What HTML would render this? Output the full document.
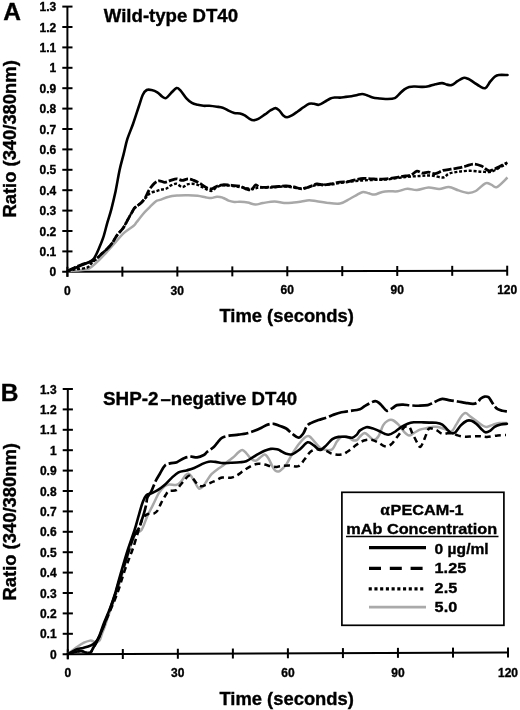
<!DOCTYPE html>
<html><head><meta charset="utf-8"><style>
html,body{margin:0;padding:0;background:#fff;}
svg{display:block;will-change:transform;}
text{font-family:"Liberation Sans",sans-serif;font-weight:bold;fill:#000;stroke:#000;stroke-width:0.35px;}
.yl{font-size:12px;text-anchor:end;}
.xl{font-size:12px;text-anchor:middle;}
.at{font-size:18px;text-anchor:middle;}
.tt{font-size:18.5px;}
.pl{font-size:24.5px;}
.lg{font-size:15px;}
.al{font-family:"Liberation Serif",serif;font-size:17px;}
.ax{stroke:#000;stroke-width:2;fill:none;}
.cs{stroke:#000;stroke-width:2.6;fill:none;stroke-linejoin:round;stroke-linecap:round;}
.cdash{stroke:#000;stroke-width:2.8;fill:none;stroke-dasharray:9 2;}
.cdashB{stroke:#000;stroke-width:2.7;fill:none;stroke-dasharray:20 3;}
.cdot{stroke:#000;stroke-width:2.4;fill:none;stroke-dasharray:3 1.8;}
.cdotB{stroke:#000;stroke-width:2.5;fill:none;stroke-dasharray:6 4;}
.cg{stroke:#a8a8a8;stroke-width:2.5;fill:none;stroke-linejoin:round;}
</style></head><body>
<svg width="520" height="710" viewBox="0 0 520 710">
<rect width="520" height="710" fill="#fff"/>
<line x1="67.40" y1="6.6" x2="67.40" y2="276.8" class="ax"/>
<line x1="62.2" y1="271.81" x2="507.2" y2="270.70" class="ax"/>
<line x1="62.3" y1="251.4" x2="72.5" y2="251.4" class="ax"/>
<line x1="62.3" y1="231.0" x2="72.5" y2="231.0" class="ax"/>
<line x1="62.3" y1="210.6" x2="72.5" y2="210.6" class="ax"/>
<line x1="62.3" y1="190.2" x2="72.5" y2="190.2" class="ax"/>
<line x1="62.3" y1="169.8" x2="72.5" y2="169.8" class="ax"/>
<line x1="62.3" y1="149.4" x2="72.5" y2="149.4" class="ax"/>
<line x1="62.3" y1="129.0" x2="72.5" y2="129.0" class="ax"/>
<line x1="62.3" y1="108.6" x2="72.5" y2="108.6" class="ax"/>
<line x1="62.3" y1="88.2" x2="72.5" y2="88.2" class="ax"/>
<line x1="62.3" y1="67.8" x2="72.5" y2="67.8" class="ax"/>
<line x1="62.3" y1="47.4" x2="72.5" y2="47.4" class="ax"/>
<line x1="62.3" y1="27.0" x2="72.5" y2="27.0" class="ax"/>
<line x1="62.3" y1="6.6" x2="72.5" y2="6.6" class="ax"/>
<text x="56.2" y="276.3" class="yl">0</text>
<text x="56.2" y="255.9" class="yl">0.1</text>
<text x="56.2" y="235.5" class="yl">0.2</text>
<text x="56.2" y="215.1" class="yl">0.3</text>
<text x="56.2" y="194.7" class="yl">0.4</text>
<text x="56.2" y="174.3" class="yl">0.5</text>
<text x="56.2" y="153.9" class="yl">0.6</text>
<text x="56.2" y="133.5" class="yl">0.7</text>
<text x="56.2" y="113.1" class="yl">0.8</text>
<text x="56.2" y="92.7" class="yl">0.9</text>
<text x="56.2" y="72.3" class="yl">1</text>
<text x="56.2" y="51.9" class="yl">1.1</text>
<text x="56.2" y="31.5" class="yl">1.2</text>
<text x="56.2" y="11.1" class="yl">1.3</text>
<line x1="67.40" y1="266.80" x2="67.40" y2="276.80" class="ax"/>
<text x="67.4" y="294.7" class="xl">0</text>
<line x1="122.38" y1="266.66" x2="122.38" y2="276.66" class="ax"/>
<line x1="177.35" y1="266.53" x2="177.35" y2="276.53" class="ax"/>
<text x="177.3" y="294.6" class="xl">30</text>
<line x1="232.32" y1="266.39" x2="232.32" y2="276.39" class="ax"/>
<line x1="287.30" y1="266.25" x2="287.30" y2="276.25" class="ax"/>
<text x="287.3" y="294.4" class="xl">60</text>
<line x1="342.27" y1="266.11" x2="342.27" y2="276.11" class="ax"/>
<line x1="397.25" y1="265.98" x2="397.25" y2="275.98" class="ax"/>
<text x="397.2" y="294.3" class="xl">90</text>
<line x1="452.22" y1="265.84" x2="452.22" y2="275.84" class="ax"/>
<line x1="507.20" y1="265.70" x2="507.20" y2="275.70" class="ax"/>
<text x="507.2" y="294.2" class="xl">120</text>
<text x="286.7" y="322.3" class="at" textLength="134.5" lengthAdjust="spacingAndGlyphs">Time (seconds)</text>
<text transform="translate(16.2 138.9) rotate(-90)" class="at" textLength="157.3" lengthAdjust="spacingAndGlyphs">Ratio (340/380nm)</text>
<text x="103.8" y="22.3" class="tt" textLength="134.2" lengthAdjust="spacingAndGlyphs">Wild-type DT40</text>
<text x="3.2" y="20.1" class="pl">A</text>
<path d="M67.7 271.0C69.8 270.9 76.8 270.6 80.0 270.3C83.2 270.0 85.0 270.0 87.0 269.4C89.0 268.8 90.1 268.0 92.0 266.5C93.9 265.0 96.3 262.7 98.6 260.5C100.9 258.3 103.2 255.9 105.8 253.1C108.4 250.3 111.4 246.9 114.4 243.5C117.4 240.1 120.8 235.9 124.0 232.9C127.2 229.9 131.6 227.5 133.7 225.7C135.8 223.9 134.9 224.3 136.5 222.3C138.1 220.3 141.1 216.3 143.3 213.7C145.6 211.1 147.9 209.0 150.0 206.9C152.1 204.8 154.3 202.4 156.0 201.2C157.7 200.0 157.9 200.7 160.0 199.9C162.1 199.2 165.7 197.4 168.8 196.7C171.9 195.9 175.3 195.7 178.5 195.4C181.7 195.2 184.9 195.1 188.1 195.2C191.3 195.3 194.8 195.5 197.7 195.8C200.6 196.2 203.2 196.9 205.4 197.3C207.7 197.7 209.3 198.2 211.2 198.1C213.1 198.0 215.0 196.8 216.9 196.7C218.8 196.6 220.8 197.0 222.7 197.7C224.6 198.3 226.6 199.9 228.5 200.6C230.4 201.3 232.3 201.7 234.2 201.9C236.1 202.1 237.8 201.7 240.0 201.8C242.2 201.9 245.1 202.1 247.7 202.6C250.3 203.1 252.8 204.5 255.4 204.6C257.9 204.7 259.8 203.5 263.0 203.0C266.2 202.5 271.1 201.5 274.6 201.5C278.1 201.5 281.0 202.7 284.2 202.9C287.4 203.1 290.9 202.7 293.8 202.5C296.7 202.3 298.9 201.9 301.5 201.5C304.1 201.1 306.6 200.2 309.2 200.2C311.8 200.2 314.0 200.9 316.9 201.3C319.8 201.7 322.6 202.3 326.5 202.7C330.4 203.1 336.1 204.1 340.0 203.5C343.9 202.9 346.7 200.5 349.6 199.0C352.5 197.5 355.1 195.8 357.3 194.6C359.6 193.4 361.2 192.1 363.1 191.9C365.0 191.7 366.9 192.9 368.8 193.3C370.7 193.8 372.4 194.8 374.6 194.6C376.9 194.4 379.7 192.4 382.3 191.9C384.9 191.4 387.4 191.4 390.0 191.3C392.6 191.2 394.8 191.7 397.7 191.3C400.6 190.9 404.1 189.0 407.3 188.8C410.5 188.6 413.4 190.2 416.9 190.0C420.4 189.8 424.8 187.7 428.5 187.5C432.2 187.3 435.8 189.1 439.2 189.0C442.6 188.9 445.6 186.9 448.8 187.1C452.0 187.3 455.3 189.4 458.5 190.4C461.7 191.4 465.2 192.8 468.1 192.9C471.0 193.0 472.9 192.6 475.8 191.0C478.7 189.4 482.8 184.4 485.4 183.3C488.0 182.2 489.3 184.0 491.2 184.6C493.1 185.2 494.2 188.3 496.9 187.1C499.6 185.9 505.7 179.1 507.5 177.5" class="cg"/>
<path d="M67.7 271.0C69.1 270.7 72.8 269.8 76.0 269.2C79.2 268.6 84.4 268.7 87.0 267.7C89.6 266.7 90.2 264.4 91.7 263.0C93.2 261.6 94.6 260.6 96.3 259.0C98.0 257.4 100.0 255.4 101.9 253.6C103.8 251.8 105.9 250.2 107.7 248.3C109.5 246.5 110.9 244.8 112.5 242.5C114.1 240.2 115.5 237.2 117.3 234.8C119.1 232.4 121.4 230.5 123.1 228.1C124.8 225.7 126.0 223.0 127.4 220.4C128.8 217.8 130.5 214.8 131.7 212.7C132.9 210.6 133.5 209.2 134.6 207.9C135.7 206.6 137.3 206.0 138.5 205.0C139.7 204.0 140.8 203.2 142.0 202.0C143.2 200.8 144.6 199.0 146.0 197.5C147.4 196.0 148.5 194.1 150.4 193.0C152.3 191.9 155.4 191.4 157.3 190.8C159.2 190.2 160.5 189.9 162.0 189.5C163.5 189.1 165.0 189.2 166.5 188.5C168.0 187.8 169.1 186.3 170.8 185.5C172.5 184.7 174.6 183.5 176.5 183.8C178.4 184.1 180.4 187.0 182.3 187.1C184.2 187.2 185.8 184.7 188.1 184.2C190.3 183.7 193.2 183.6 195.8 184.2C198.4 184.8 200.9 186.6 203.5 187.7C206.1 188.8 209.0 191.1 211.2 191.0C213.4 190.9 214.7 188.1 216.9 187.1C219.1 186.1 220.8 185.2 224.6 185.2C228.4 185.2 235.5 186.5 240.0 187.1C244.5 187.7 248.3 188.9 251.5 189.0C254.7 189.1 256.0 187.8 259.2 187.5C262.4 187.2 266.3 187.7 270.8 187.5C275.3 187.3 281.1 186.3 286.2 186.5C291.3 186.7 296.4 188.8 301.5 188.5C306.6 188.2 312.1 185.7 316.9 185.0C321.7 184.3 326.5 184.8 330.4 184.5C334.2 184.2 335.8 183.6 340.0 183.0C344.2 182.4 350.3 181.5 355.4 181.0C360.5 180.5 365.7 180.2 370.8 180.0C375.9 179.8 380.4 180.0 386.2 179.5C392.0 179.0 399.8 177.6 405.4 177.0C411.0 176.4 415.6 176.2 420.0 176.0C424.4 175.8 427.6 175.3 431.5 175.6C435.4 175.8 440.2 177.8 443.1 177.5C446.0 177.2 446.2 174.7 448.8 173.7C451.4 172.7 455.0 172.2 458.5 171.7C462.0 171.2 466.2 170.8 470.0 170.8C473.8 170.8 478.0 171.5 481.5 171.7C485.0 171.8 488.0 172.5 491.2 171.7C494.4 170.9 498.2 168.2 500.8 166.9C503.4 165.6 505.6 164.5 506.5 164.0" class="cdot"/>
<path d="M67.7 271.0C68.8 270.4 72.1 268.7 74.4 267.7C76.7 266.7 78.6 265.8 81.3 264.8C84.0 263.8 88.0 262.7 90.5 261.7C93.0 260.7 94.4 260.4 96.3 259.0C98.2 257.6 100.0 255.4 101.9 253.6C103.8 251.8 105.9 250.2 107.7 248.3C109.5 246.5 110.9 244.8 112.5 242.5C114.1 240.2 115.5 237.2 117.3 234.8C119.1 232.4 121.4 230.5 123.1 228.1C124.8 225.7 126.0 223.0 127.4 220.4C128.8 217.8 130.5 214.8 131.7 212.7C132.9 210.6 133.5 209.2 134.6 207.9C135.7 206.6 137.3 205.9 138.5 205.0C139.7 204.1 140.4 203.7 141.5 202.5C142.6 201.3 143.9 200.0 145.2 197.9C146.5 195.8 147.6 192.3 149.2 189.8C150.8 187.3 152.9 184.6 154.6 183.1C156.3 181.6 157.5 180.9 159.2 180.8C160.9 180.7 163.1 182.4 165.0 182.3C166.9 182.2 168.9 181.0 170.8 180.4C172.7 179.8 174.6 178.8 176.5 178.8C178.4 178.8 180.4 180.4 182.3 180.4C184.2 180.4 186.2 178.8 188.1 178.8C190.0 178.8 191.9 179.7 193.8 180.4C195.7 181.2 197.7 182.2 199.6 183.3C201.5 184.4 203.5 186.2 205.4 187.1C207.3 188.0 209.3 189.2 211.2 189.0C213.1 188.8 215.0 186.9 216.9 186.2C218.8 185.5 220.4 185.0 222.7 184.8C224.9 184.6 227.5 185.0 230.4 185.2C233.3 185.4 237.4 185.6 240.0 186.2C242.6 186.8 243.9 188.2 245.8 188.8C247.7 189.4 249.9 190.4 251.5 189.8C253.1 189.2 254.1 185.5 255.4 185.0C256.7 184.5 257.6 186.5 259.2 186.9C260.8 187.3 263.1 187.3 265.0 187.3C266.9 187.3 268.6 187.0 270.8 186.9C273.1 186.8 275.9 186.7 278.5 186.5C281.1 186.3 283.6 185.9 286.2 186.0C288.8 186.1 291.2 186.4 293.8 186.9C296.4 187.4 298.9 188.8 301.5 188.8C304.1 188.8 306.6 187.7 309.2 186.9C311.8 186.1 314.6 184.3 316.9 184.0C319.1 183.7 320.4 185.0 322.7 185.0C324.9 185.0 327.5 184.5 330.4 184.0C333.3 183.5 337.1 182.5 340.0 182.1C342.9 181.7 345.1 182.1 347.7 181.7C350.3 181.3 352.8 180.3 355.4 179.8C358.0 179.3 360.5 178.7 363.1 178.5C365.7 178.3 368.2 178.7 370.8 178.8C373.4 178.9 375.9 179.2 378.5 179.2C381.1 179.2 383.6 179.0 386.2 178.8C388.8 178.6 391.6 178.2 393.8 177.9C396.0 177.6 397.7 177.2 399.6 176.9C401.5 176.6 403.5 176.3 405.4 176.0C407.3 175.7 409.3 175.8 411.2 175.0C413.1 174.2 415.0 171.5 416.9 171.2C418.8 170.9 420.8 172.9 422.7 173.1C424.6 173.2 426.4 172.0 428.5 172.1C430.6 172.2 433.0 174.0 435.4 173.7C437.8 173.4 440.5 171.2 443.1 170.4C445.7 169.7 448.2 169.6 450.8 169.2C453.4 168.8 455.9 168.4 458.5 167.9C461.1 167.4 463.6 166.7 466.2 166.0C468.8 165.3 471.2 164.0 473.8 164.0C476.4 164.0 478.9 164.9 481.5 166.0C484.1 167.1 486.6 170.5 489.2 170.8C491.8 171.1 494.3 169.0 496.9 167.9C499.5 166.8 502.8 164.9 504.6 164.0C506.4 163.1 507.0 162.9 507.5 162.7" class="cdash"/>
<path d="M67.7 271.0C68.6 270.6 70.9 269.7 73.2 268.8C75.5 267.9 78.6 266.5 81.3 265.4C84.0 264.2 87.3 263.0 89.4 261.9C91.5 260.8 92.5 260.6 94.0 258.5C95.5 256.4 97.1 252.7 98.6 249.2C100.1 245.7 101.7 242.2 103.2 237.7C104.7 233.2 106.1 226.9 107.5 222.1C108.9 217.2 110.2 213.8 111.5 208.6C112.8 203.4 114.2 197.6 115.6 191.2C116.9 184.8 118.3 176.1 119.6 170.0C120.9 163.9 122.2 159.7 123.5 154.6C124.8 149.5 125.7 144.3 127.3 139.2C128.9 134.1 131.2 129.2 133.1 123.8C135.0 118.3 137.2 111.3 138.8 106.5C140.4 101.7 141.4 97.8 142.7 95.0C144.0 92.2 145.2 90.8 146.7 90.0C148.2 89.2 149.7 89.6 151.5 90.0C153.3 90.4 155.5 91.2 157.3 92.3C159.1 93.4 160.7 95.5 162.1 96.5C163.5 97.5 164.6 98.6 166.0 98.1C167.4 97.6 169.1 95.0 170.8 93.3C172.6 91.6 174.9 88.6 176.5 88.1C178.1 87.6 178.8 88.7 180.4 90.4C182.0 92.1 184.3 96.0 186.2 98.1C188.1 100.2 190.0 101.8 191.9 102.9C193.8 104.0 195.8 104.3 197.7 104.8C199.6 105.3 201.6 105.6 203.5 105.8C205.4 106.0 207.0 105.6 209.2 105.8C211.4 106.0 214.7 106.4 216.9 106.7C219.2 107.0 220.8 107.1 222.7 107.7C224.6 108.3 226.6 109.7 228.5 110.6C230.4 111.5 232.3 112.4 234.2 112.9C236.1 113.4 238.2 113.1 240.0 113.5C241.8 113.9 243.2 114.5 244.8 115.4C246.4 116.3 248.2 118.0 249.6 118.8C251.0 119.6 252.1 120.2 253.5 120.2C254.9 120.2 256.4 119.8 258.3 118.8C260.2 117.8 262.9 115.8 265.0 114.4C267.1 113.0 269.0 111.2 270.8 110.2C272.6 109.2 274.2 108.0 275.6 108.1C277.0 108.2 278.1 109.4 279.4 110.6C280.7 111.8 282.0 114.3 283.3 115.4C284.6 116.5 285.7 117.3 287.1 117.3C288.5 117.3 290.1 116.4 291.9 115.4C293.7 114.4 295.8 112.8 297.7 111.5C299.6 110.2 301.6 108.6 303.5 107.3C305.4 106.0 307.4 104.4 309.2 103.8C310.9 103.2 312.4 103.6 314.0 103.8C315.6 104.0 317.0 105.1 318.8 104.8C320.6 104.5 322.7 103.0 324.6 101.9C326.5 100.9 328.6 99.2 330.4 98.5C332.2 97.8 333.6 97.7 335.2 97.5C336.8 97.3 338.2 97.7 340.0 97.6C341.8 97.5 343.9 97.1 345.8 96.9C347.7 96.7 349.6 96.5 351.5 96.2C353.4 95.9 355.5 95.4 357.3 95.0C359.1 94.6 360.5 94.0 362.1 94.0C363.7 94.0 365.1 94.6 366.9 95.2C368.7 95.8 370.6 97.0 372.7 97.5C374.8 98.0 377.1 98.2 379.4 98.5C381.6 98.8 383.6 99.1 386.2 99.0C388.8 98.9 392.6 99.0 394.8 98.1C397.0 97.2 398.0 95.2 399.6 93.7C401.2 92.2 402.8 90.5 404.4 89.4C406.0 88.3 407.4 87.4 409.2 86.9C411.0 86.4 412.8 86.5 415.0 86.5C417.2 86.5 420.4 86.9 422.7 86.9C424.9 86.9 426.4 86.8 428.5 86.3C430.6 85.8 433.1 84.7 435.4 84.2C437.7 83.7 440.2 83.0 442.1 83.1C444.0 83.2 445.3 84.3 446.9 84.6C448.5 84.9 449.9 85.6 451.7 85.0C453.5 84.4 455.6 82.4 457.5 81.2C459.4 80.0 461.5 78.3 463.3 77.9C465.1 77.5 466.4 78.1 468.1 78.8C469.9 79.5 471.9 81.1 473.8 82.3C475.7 83.5 477.7 85.2 479.6 86.2C481.5 87.2 483.6 88.8 485.4 88.1C487.2 87.3 488.6 83.6 490.2 81.7C491.8 79.8 493.6 77.6 495.0 76.5C496.4 75.4 496.7 75.2 498.8 75.0C500.9 74.8 506.1 75.0 507.5 75.0" class="cs"/>
<line x1="67.80" y1="389.0" x2="67.80" y2="659.2" class="ax"/>
<line x1="62.6" y1="654.22" x2="508.0" y2="652.40" class="ax"/>
<line x1="62.7" y1="633.8" x2="72.9" y2="633.8" class="ax"/>
<line x1="62.7" y1="613.4" x2="72.9" y2="613.4" class="ax"/>
<line x1="62.7" y1="593.0" x2="72.9" y2="593.0" class="ax"/>
<line x1="62.7" y1="572.6" x2="72.9" y2="572.6" class="ax"/>
<line x1="62.7" y1="552.2" x2="72.9" y2="552.2" class="ax"/>
<line x1="62.7" y1="531.8" x2="72.9" y2="531.8" class="ax"/>
<line x1="62.7" y1="511.4" x2="72.9" y2="511.4" class="ax"/>
<line x1="62.7" y1="491.0" x2="72.9" y2="491.0" class="ax"/>
<line x1="62.7" y1="470.6" x2="72.9" y2="470.6" class="ax"/>
<line x1="62.7" y1="450.2" x2="72.9" y2="450.2" class="ax"/>
<line x1="62.7" y1="429.8" x2="72.9" y2="429.8" class="ax"/>
<line x1="62.7" y1="409.4" x2="72.9" y2="409.4" class="ax"/>
<line x1="62.7" y1="389.0" x2="72.9" y2="389.0" class="ax"/>
<text x="56.6" y="658.7" class="yl">0</text>
<text x="56.6" y="638.3" class="yl">0.1</text>
<text x="56.6" y="617.9" class="yl">0.2</text>
<text x="56.6" y="597.5" class="yl">0.3</text>
<text x="56.6" y="577.1" class="yl">0.4</text>
<text x="56.6" y="556.7" class="yl">0.5</text>
<text x="56.6" y="536.3" class="yl">0.6</text>
<text x="56.6" y="515.9" class="yl">0.7</text>
<text x="56.6" y="495.5" class="yl">0.8</text>
<text x="56.6" y="475.1" class="yl">0.9</text>
<text x="56.6" y="454.7" class="yl">1</text>
<text x="56.6" y="434.3" class="yl">1.1</text>
<text x="56.6" y="413.9" class="yl">1.2</text>
<text x="56.6" y="393.5" class="yl">1.3</text>
<line x1="67.80" y1="649.20" x2="67.80" y2="659.20" class="ax"/>
<text x="67.8" y="677.1" class="xl">0</text>
<line x1="122.82" y1="648.98" x2="122.82" y2="658.98" class="ax"/>
<line x1="177.85" y1="648.75" x2="177.85" y2="658.75" class="ax"/>
<text x="177.8" y="677.0" class="xl">30</text>
<line x1="232.88" y1="648.53" x2="232.88" y2="658.53" class="ax"/>
<line x1="287.90" y1="648.30" x2="287.90" y2="658.30" class="ax"/>
<text x="287.9" y="676.9" class="xl">60</text>
<line x1="342.93" y1="648.08" x2="342.93" y2="658.08" class="ax"/>
<line x1="397.95" y1="647.85" x2="397.95" y2="657.85" class="ax"/>
<text x="397.9" y="676.7" class="xl">90</text>
<line x1="452.98" y1="647.62" x2="452.98" y2="657.62" class="ax"/>
<line x1="508.00" y1="647.40" x2="508.00" y2="657.40" class="ax"/>
<text x="508.0" y="676.6" class="xl">120</text>
<text x="286.7" y="704.8" class="at" textLength="134.5" lengthAdjust="spacingAndGlyphs">Time (seconds)</text>
<text transform="translate(16.2 521.8) rotate(-90)" class="at" textLength="157.3" lengthAdjust="spacingAndGlyphs">Ratio (340/380nm)</text>
<text x="103" y="405.3" class="tt" textLength="55.5" lengthAdjust="spacingAndGlyphs">SHP-2</text><text x="160.5" y="405.3" class="tt" textLength="136.5" lengthAdjust="spacingAndGlyphs">–negative DT40</text>
<text x="0.7" y="400.6" class="pl">B</text>
<path d="M67.7 654.0C69.2 652.9 74.3 649.0 77.0 647.1C79.7 645.2 81.7 643.8 83.9 642.7C86.1 641.6 88.6 640.9 90.0 640.6C91.4 640.3 91.5 640.7 92.5 641.0C93.5 641.3 94.8 642.4 96.0 642.3C97.2 642.2 98.5 642.0 99.5 640.6C100.5 639.2 101.1 636.0 102.0 633.7C102.9 631.4 103.7 629.4 104.7 626.7C105.7 624.0 106.5 621.0 107.8 617.3C109.1 613.6 110.8 609.5 112.5 604.6C114.2 599.7 116.1 594.1 118.0 588.0C119.9 581.9 122.0 574.7 124.0 568.0C126.0 561.3 128.2 553.7 130.0 548.0C131.8 542.3 133.1 537.0 135.0 534.0C136.9 531.0 139.4 533.0 141.5 530.0C143.6 527.0 145.4 520.4 147.3 516.2C149.2 512.0 151.2 508.5 153.1 504.6C155.0 500.8 156.9 496.2 158.8 493.1C160.7 490.0 162.9 487.6 164.6 486.2C166.3 484.8 167.3 484.6 169.2 484.4C171.1 484.2 174.3 485.4 176.2 485.0C178.1 484.6 179.2 483.5 180.8 481.9C182.4 480.3 184.3 476.5 185.6 475.2C186.9 473.9 187.6 473.6 188.5 473.8C189.4 474.0 190.2 474.7 191.3 476.2C192.4 477.7 193.9 480.8 195.2 482.9C196.5 485.0 197.7 488.1 199.0 488.7C200.3 489.3 201.6 488.0 202.9 486.7C204.2 485.4 205.3 483.1 206.7 481.0C208.1 478.9 209.7 476.1 211.5 474.2C213.3 472.3 215.4 470.8 217.3 469.4C219.2 468.0 221.4 466.9 223.1 465.6C224.8 464.3 225.9 462.9 227.7 461.5C229.5 460.1 232.0 458.4 233.8 456.9C235.6 455.4 237.1 453.4 238.5 452.3C239.9 451.2 241.0 449.9 242.3 450.0C243.6 450.1 244.8 451.7 246.2 453.1C247.6 454.5 249.3 457.2 250.8 458.5C252.3 459.8 253.9 460.9 255.4 460.8C256.9 460.7 258.5 458.7 260.0 457.7C261.5 456.7 263.2 454.5 264.6 454.6C266.0 454.7 267.2 456.6 268.5 458.5C269.8 460.4 271.2 464.1 272.3 466.2C273.4 468.2 274.1 470.0 275.4 470.8C276.7 471.6 278.2 471.8 280.0 470.8C281.8 469.8 284.1 467.4 286.2 464.6C288.2 461.8 290.2 457.1 292.3 453.8C294.4 450.5 296.4 447.3 298.5 444.6C300.6 441.9 302.8 439.1 304.6 437.7C306.4 436.3 307.7 435.7 309.2 436.2C310.7 436.7 312.0 438.9 313.8 440.8C315.6 442.7 317.9 446.2 320.0 447.7C322.1 449.2 324.1 449.8 326.2 450.0C328.2 450.2 330.5 450.6 332.3 449.2C334.1 447.8 335.4 443.6 336.9 441.5C338.4 439.4 339.7 437.7 341.5 436.9C343.3 436.1 345.9 436.4 347.7 436.9C349.5 437.4 350.8 439.5 352.3 440.0C353.8 440.5 355.6 440.6 356.9 440.0C358.2 439.4 358.7 437.6 360.0 436.5C361.3 435.4 363.1 433.2 364.6 433.1C366.1 433.1 367.7 435.1 369.2 436.2C370.7 437.3 372.2 440.0 373.8 440.0C375.4 440.0 376.9 438.6 378.5 436.2C380.1 433.8 381.6 428.0 383.1 425.4C384.6 422.8 386.2 421.7 387.7 420.8C389.2 419.9 390.5 419.4 392.3 420.0C394.1 420.6 396.4 422.6 398.5 424.6C400.6 426.7 402.8 430.5 404.6 432.3C406.4 434.1 407.7 435.3 409.2 435.4C410.7 435.5 412.0 434.1 413.8 433.1C415.6 432.2 417.9 430.5 420.0 429.7C422.1 428.9 424.1 428.7 426.2 428.2C428.2 427.7 430.4 427.1 432.3 426.9C434.2 426.7 435.5 426.5 437.7 426.9C439.9 427.3 443.1 428.4 445.4 429.2C447.7 430.0 449.7 432.3 451.5 431.5C453.3 430.7 454.6 427.0 456.2 424.6C457.8 422.2 459.3 418.8 460.8 416.9C462.3 415.0 463.9 413.2 465.4 413.1C466.9 413.0 468.2 414.9 470.0 416.2C471.8 417.5 474.1 419.3 476.2 420.8C478.2 422.3 480.5 424.4 482.3 425.4C484.1 426.4 485.1 427.0 486.9 426.9C488.7 426.8 491.1 425.2 493.1 424.6C495.2 424.0 496.9 423.4 499.2 423.1C501.5 422.9 505.6 423.1 506.9 423.1" class="cg"/>
<path d="M67.7 654.0C69.1 653.6 73.8 652.3 76.1 651.8C78.4 651.3 79.6 650.9 81.3 651.0C83.0 651.1 84.9 652.5 86.5 652.7C88.1 652.9 89.6 653.1 90.8 652.2C92.0 651.3 92.5 649.1 93.4 647.5C94.3 645.9 95.2 644.7 96.3 642.7C97.4 640.8 98.4 638.9 99.8 635.8C101.2 632.7 102.7 628.4 104.4 624.2C106.1 620.0 108.1 615.5 110.2 610.4C112.3 605.3 114.7 600.6 117.2 593.6C119.8 586.6 122.8 575.8 125.5 568.2C128.2 560.6 130.8 554.7 133.1 547.9C135.4 541.1 137.8 532.6 139.4 527.6C141.1 522.6 141.6 520.3 143.0 518.0C144.4 515.7 146.1 514.8 148.0 514.0C149.9 513.2 152.6 513.9 154.2 513.3C155.8 512.7 156.5 512.1 157.7 510.4C158.9 508.7 159.8 505.5 161.2 502.9C162.5 500.3 164.5 496.8 165.8 494.8C167.1 492.8 167.3 491.8 169.0 491.0C170.7 490.2 174.4 491.1 176.2 490.2C178.0 489.3 178.4 487.5 179.8 485.8C181.2 484.1 183.1 481.7 184.6 480.0C186.1 478.3 187.4 475.9 188.9 475.7C190.4 475.5 191.9 477.6 193.3 479.0C194.7 480.4 195.8 482.6 197.1 483.8C198.4 485.0 199.6 486.1 201.0 486.3C202.4 486.5 204.1 485.5 205.8 484.8C207.6 484.1 209.9 483.1 211.5 482.4C213.1 481.7 213.6 481.6 215.4 480.8C217.2 480.0 219.5 478.1 222.1 477.6C224.7 477.1 228.3 478.1 230.8 477.7C233.3 477.3 234.6 476.7 236.9 475.4C239.2 474.1 242.0 471.7 244.6 470.0C247.2 468.3 250.0 466.4 252.3 465.4C254.6 464.4 256.4 463.9 258.5 463.8C260.6 463.7 262.6 464.2 264.6 464.6C266.7 465.0 268.8 465.8 270.8 466.2C272.9 466.6 275.4 466.9 276.9 466.9C278.4 466.9 277.9 466.4 280.0 466.2C282.1 465.9 286.1 465.4 289.2 465.4C292.3 465.4 295.9 467.2 298.5 466.2C301.1 465.2 302.6 461.6 304.6 459.2C306.7 456.8 308.5 453.2 310.8 451.5C313.1 449.8 315.9 449.3 318.5 449.2C321.1 449.1 323.9 450.0 326.2 450.8C328.5 451.6 329.8 453.2 332.3 453.8C334.9 454.4 338.9 455.0 341.5 454.6C344.1 454.2 345.6 452.8 347.7 451.5C349.8 450.2 351.8 448.4 353.8 446.9C355.9 445.4 357.9 443.4 360.0 442.3C362.1 441.2 364.1 440.4 366.2 440.0C368.2 439.6 370.2 439.6 372.3 440.0C374.4 440.4 376.4 441.6 378.5 442.6C380.6 443.6 382.6 445.9 384.6 446.2C386.7 446.5 389.0 445.8 390.8 444.6C392.6 443.4 393.9 441.1 395.4 439.2C396.9 437.3 398.5 435.2 400.0 433.1C401.5 431.1 403.1 427.9 404.6 426.9C406.1 425.9 407.9 425.9 409.2 426.9C410.5 427.9 411.1 430.8 412.3 433.1C413.5 435.4 414.9 438.5 416.2 440.8C417.5 443.1 418.9 446.6 420.0 446.9C421.1 447.1 422.1 444.4 423.1 442.3C424.1 440.2 425.2 436.9 426.2 434.6C427.2 432.3 427.5 429.3 429.2 428.5C430.9 427.7 434.0 429.1 436.2 430.0C438.4 430.9 440.2 433.3 442.3 433.8C444.4 434.3 446.7 433.2 448.5 433.1C450.3 433.1 451.6 433.1 453.1 433.5C454.6 433.9 455.9 434.9 457.7 435.4C459.5 435.9 461.8 436.4 463.8 436.6C465.9 436.8 467.9 436.7 470.0 436.6C472.1 436.5 474.4 436.3 476.2 436.2C478.0 436.1 479.0 436.1 480.8 436.2C482.6 436.3 484.1 437.0 486.9 436.9C489.7 436.8 494.5 435.7 497.7 435.4C500.9 435.1 504.6 435.1 506.0 435.0" class="cdotB"/>
<path d="M67.7 654.0C69.1 653.6 73.8 652.3 76.1 651.8C78.4 651.3 79.6 650.9 81.3 651.0C83.0 651.1 84.9 652.5 86.5 652.7C88.1 652.9 89.6 653.1 90.8 652.2C92.0 651.3 92.5 649.0 93.4 647.5C94.3 646.0 94.9 645.3 96.0 643.2C97.1 641.1 98.7 638.0 100.0 635.0C101.3 632.0 102.5 628.8 104.0 625.0C105.5 621.2 107.3 616.5 109.0 612.0C110.7 607.5 112.3 603.0 114.0 598.0C115.7 593.0 117.3 587.3 119.0 582.0C120.7 576.7 122.3 571.3 124.0 566.0C125.7 560.7 127.3 555.0 129.0 550.0C130.7 545.0 132.3 539.7 134.0 536.0C135.7 532.3 137.9 530.2 139.2 527.7C140.4 525.2 140.7 523.1 141.5 520.8C142.3 518.5 143.0 516.5 143.8 513.8C144.6 511.1 145.6 507.3 146.2 504.6C146.8 501.9 146.5 499.9 147.3 497.7C148.2 495.5 150.0 494.0 151.3 491.3C152.7 488.6 154.0 484.5 155.4 481.5C156.8 478.5 158.4 476.2 160.0 473.5C161.6 470.8 163.1 467.1 165.0 465.4C166.9 463.7 169.2 463.6 171.2 463.1C173.2 462.6 174.7 463.1 176.9 462.2C179.1 461.3 182.2 458.8 184.6 457.9C187.0 457.0 189.2 456.8 191.3 456.7C193.4 456.6 195.0 457.7 197.1 457.4C199.2 457.1 202.1 455.9 203.8 455.0C205.5 454.1 205.6 453.2 207.3 451.8C209.0 450.4 212.1 448.5 213.8 446.9C215.5 445.3 216.3 443.8 217.7 442.3C219.1 440.8 220.4 438.8 222.3 437.7C224.2 436.6 226.5 436.2 229.2 435.7C231.9 435.2 235.7 435.0 238.5 434.6C241.3 434.2 243.6 434.1 246.2 433.5C248.8 432.9 251.2 432.1 253.8 431.1C256.4 430.1 259.2 428.8 261.5 427.7C263.8 426.6 265.6 425.2 267.7 424.6C269.8 424.0 271.8 423.6 273.8 423.8C275.9 424.0 277.9 425.2 280.0 426.0C282.1 426.8 284.1 427.2 286.2 428.5C288.2 429.8 290.2 432.3 292.3 433.8C294.4 435.3 296.7 437.7 298.5 437.7C300.3 437.7 301.7 435.7 303.1 433.8C304.5 431.9 305.6 428.0 306.9 426.2C308.2 424.4 308.9 424.1 310.8 423.1C312.7 422.1 315.9 420.9 318.5 420.0C321.1 419.1 323.6 418.6 326.2 417.7C328.8 416.8 331.2 415.5 333.8 414.6C336.4 413.7 338.9 412.9 341.5 412.3C344.1 411.7 346.1 411.6 349.2 411.1C352.3 410.6 357.4 410.0 360.0 409.2C362.6 408.4 362.9 407.2 364.6 406.2C366.3 405.2 368.2 404.0 370.0 403.1C371.8 402.2 373.9 401.1 375.4 401.1C376.9 401.1 378.0 402.2 379.2 403.1C380.4 404.0 381.0 404.9 382.3 406.2C383.6 407.5 385.2 410.5 386.9 410.8C388.6 411.1 390.6 409.1 392.3 408.2C394.0 407.2 395.1 405.7 396.9 405.1C398.7 404.5 400.8 404.6 403.1 404.6C405.4 404.7 408.0 405.2 410.8 405.4C413.6 405.6 417.2 405.8 420.0 405.7C422.8 405.6 425.6 405.5 427.7 405.1C429.8 404.7 430.9 403.8 432.3 403.1C433.7 402.5 434.5 401.9 436.2 401.2C437.9 400.5 440.0 398.9 442.3 398.8C444.6 398.7 447.4 399.9 450.0 400.3C452.6 400.8 455.1 401.1 457.7 401.5C460.3 401.9 462.8 402.4 465.4 402.8C468.0 403.2 471.1 403.9 473.1 403.8C475.2 403.7 476.4 403.2 477.7 402.3C479.0 401.4 479.6 399.4 480.8 398.5C482.0 397.6 483.3 396.8 484.6 396.6C485.9 396.4 487.4 396.4 488.5 397.2C489.6 398.0 490.5 400.0 491.5 401.5C492.5 403.0 493.6 404.9 494.6 406.2C495.6 407.5 496.4 408.4 497.7 409.2C499.0 410.0 500.8 410.4 502.3 410.8C503.8 411.2 506.1 411.4 506.9 411.5" class="cdashB"/>
<path d="M67.7 654.0C69.2 653.2 74.5 650.2 77.0 649.2C79.5 648.2 81.1 648.3 83.0 647.9C84.9 647.5 86.5 647.2 88.2 646.6C89.9 646.0 92.0 645.0 93.4 644.0C94.9 643.0 95.9 642.0 96.9 640.6C97.9 639.2 98.7 637.4 99.5 635.4C100.3 633.4 101.2 630.7 102.0 628.5C102.8 626.3 103.0 625.4 104.4 622.0C105.8 618.6 108.4 612.7 110.2 608.0C112.0 603.3 113.3 599.6 115.0 594.0C116.7 588.4 118.2 582.1 120.4 574.6C122.6 567.1 125.6 556.6 128.0 549.2C130.4 541.8 132.7 535.9 134.6 530.0C136.5 524.1 137.8 518.4 139.2 513.8C140.5 509.2 141.5 505.4 142.7 502.3C143.9 499.2 144.7 496.9 146.2 495.4C147.7 493.9 150.0 494.0 151.9 493.1C153.8 492.2 155.6 491.6 157.7 490.2C159.8 488.8 162.3 487.0 164.6 485.0C166.9 483.0 169.2 480.2 171.5 478.1C173.8 476.0 176.0 473.6 178.5 472.3C181.0 471.0 183.9 471.1 186.5 470.4C189.1 469.7 191.6 469.1 194.2 468.0C196.8 466.9 199.5 465.2 201.9 464.1C204.3 463.1 206.4 462.1 208.7 461.7C210.9 461.3 213.0 461.7 215.4 461.9C217.8 462.1 220.5 463.0 223.1 463.1C225.7 463.2 228.0 462.9 230.8 462.8C233.6 462.7 237.4 462.6 240.0 462.3C242.6 462.0 244.1 462.0 246.2 461.2C248.2 460.4 250.2 458.9 252.3 457.7C254.4 456.5 256.4 454.9 258.5 453.8C260.6 452.7 262.6 451.6 264.6 450.8C266.7 450.0 268.8 449.2 270.8 448.9C272.9 448.6 275.4 448.9 276.9 449.2C278.4 449.5 278.4 449.7 280.0 450.5C281.6 451.3 284.1 453.2 286.2 453.8C288.2 454.4 290.0 455.0 292.3 454.2C294.6 453.4 297.4 451.2 300.0 449.2C302.6 447.2 305.4 442.9 307.7 442.3C310.0 441.7 311.8 444.1 313.8 445.4C315.9 446.7 317.9 450.0 320.0 450.0C322.1 450.0 324.1 447.2 326.2 445.4C328.2 443.6 330.2 440.6 332.3 439.2C334.4 437.8 336.2 437.3 338.5 436.9C340.8 436.5 343.9 436.8 346.2 436.9C348.5 437.0 350.5 438.1 352.3 437.7C354.1 437.3 355.6 435.8 356.9 434.6C358.2 433.4 358.4 431.6 360.0 430.4C361.6 429.2 364.1 427.6 366.2 427.2C368.2 426.8 370.2 427.6 372.3 428.2C374.4 428.8 376.4 429.9 378.5 430.8C380.6 431.7 382.8 433.2 384.6 433.8C386.4 434.4 387.4 435.0 389.2 434.6C391.0 434.2 393.3 432.8 395.4 431.5C397.4 430.2 399.4 428.2 401.5 426.9C403.6 425.6 405.6 424.6 407.7 423.8C409.8 423.0 411.5 422.6 413.8 422.3C416.1 422.1 418.9 422.2 421.5 422.3C424.1 422.4 426.8 422.5 429.2 422.6C431.6 422.7 434.0 422.5 436.2 422.8C438.4 423.1 440.5 423.5 442.3 424.6C444.1 425.7 445.4 427.8 446.9 429.2C448.4 430.6 450.1 432.6 451.5 433.1C452.9 433.6 453.8 433.6 455.4 432.3C456.9 431.0 458.9 427.3 460.8 425.4C462.7 423.5 465.1 421.6 466.9 420.8C468.7 420.0 469.9 420.3 471.5 420.8C473.1 421.3 474.6 422.5 476.2 423.8C477.8 425.1 479.3 427.1 480.8 428.5C482.3 429.9 483.9 431.9 485.4 432.3C486.9 432.7 488.5 431.7 490.0 430.8C491.5 429.9 492.8 427.9 494.6 426.9C496.4 425.9 498.8 425.1 500.8 424.6C502.9 424.1 505.9 423.9 506.9 423.8" class="cs"/>
<rect x="341.9" y="492.3" width="162" height="133" fill="#fff" stroke="#000" stroke-width="1.7"/>
<text x="380.2" y="514.6" class="al">&#945;</text><text x="390.6" y="514.6" class="lg" textLength="73" lengthAdjust="spacingAndGlyphs">PECAM-1</text>
<text x="346.3" y="533.8" class="lg" textLength="150.8" lengthAdjust="spacingAndGlyphs">mAb Concentration</text>
<line x1="346" y1="536.5" x2="498.5" y2="536.5" stroke="#000" stroke-width="1.6"/>
<line x1="369" y1="547.6" x2="426" y2="547.6" stroke="#000" stroke-width="3.2"/>
<line x1="369" y1="568.4" x2="426" y2="568.4" stroke="#000" stroke-width="3.4" stroke-dasharray="12 8.8"/>
<line x1="368.7" y1="588.9" x2="423.5" y2="588.9" stroke="#000" stroke-width="3.2" stroke-dasharray="3.1 2.62"/>
<line x1="369" y1="607.1" x2="426" y2="607.1" stroke="#aaa" stroke-width="2.8"/>
<text x="434.6" y="553.6" class="lg" textLength="54.1" lengthAdjust="spacingAndGlyphs">0 &#181;g/ml</text>
<text x="434.6" y="573" class="lg" textLength="31.6" lengthAdjust="spacingAndGlyphs">1.25</text>
<text x="434.6" y="593" class="lg" textLength="22.6" lengthAdjust="spacingAndGlyphs">2.5</text>
<text x="434.6" y="612" class="lg" textLength="22.6" lengthAdjust="spacingAndGlyphs">5.0</text>

</svg>
</body></html>
